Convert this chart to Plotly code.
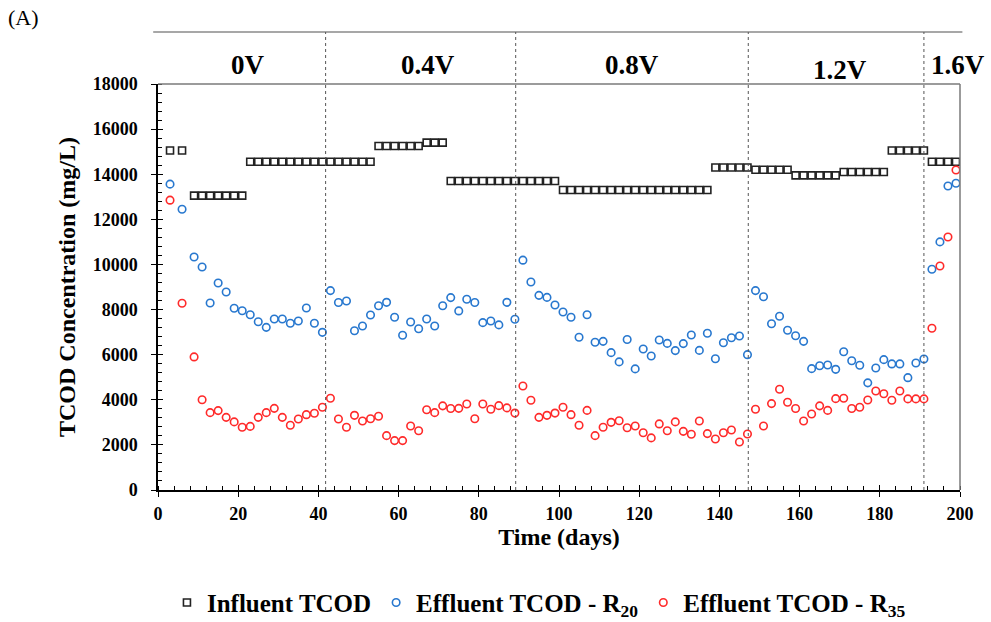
import plotly.graph_objects as go

# ---------------- data ----------------
days = [3, 6, 9, 11, 13, 15, 17, 19, 21, 23, 25, 27, 29, 31, 33, 35, 37, 39, 41, 43,
        45, 47, 49, 51, 53, 55, 57, 59, 61, 63, 65, 67, 69, 71, 73, 75, 77, 79, 81, 83,
        85, 87, 89, 91, 93, 95, 97, 99, 101, 103, 105, 107, 109, 111, 113, 115, 117, 119,
        121, 123, 125, 127, 129, 131, 133, 135, 137, 139, 141, 143, 145, 147, 149, 151,
        153, 155, 157, 159, 161, 163, 165, 167, 169, 171, 173, 175, 177, 179, 181, 183,
        185, 187, 189, 191, 193, 195, 197, 199]

influent = [15050, 15050,
            13050, 13050, 13050, 13050, 13050, 13050, 13050,
            14550, 14550, 14550, 14550, 14550, 14550, 14550, 14550,
            14550, 14550, 14550, 14550, 14550, 14550, 14550, 14550,
            15250, 15250, 15250, 15250, 15250, 15250,
            15400, 15400, 15400,
            13700, 13700, 13700, 13700, 13700, 13700, 13700,
            13700, 13700, 13700, 13700, 13700, 13700, 13700,
            13300, 13300, 13300, 13300, 13300, 13300, 13300, 13300, 13300, 13300,
            13300, 13300, 13300, 13300, 13300, 13300, 13300, 13300, 13300,
            14300, 14300, 14300, 14300, 14300,
            14200, 14200, 14200, 14200, 14200,
            13950, 13950, 13950, 13950, 13950, 13950,
            14100, 14100, 14100, 14100, 14100, 14100,
            15050, 15050, 15050, 15050, 15050,
            14550, 14550, 14550, 14550]

effluent_r20 = [13560, 12450, 10330, 9890, 8290, 9180, 8780, 8060, 7950, 7770,
                7460, 7210, 7580, 7580, 7390, 7490, 8070, 7390, 6990, 8840,
                8310, 8380, 7060, 7270, 7760, 8170, 8320, 7660, 6860, 7450,
                7150, 7580, 7270, 8170, 8530, 7940, 8460, 8310, 7420, 7490,
                7320, 8320, 7570, 10190, 9220, 8630, 8540, 8200, 7890, 7660,
                6770, 7770, 6550, 6590, 6090, 5680, 6670, 5370, 6250, 5940,
                6650, 6500, 6180, 6490, 6870, 6190, 6950, 5820, 6530, 6750,
                6830, 6000, 8840, 8570, 7370, 7700, 7080, 6840, 6590, 5380,
                5510, 5540, 5350, 6130, 5730, 5530, 4750, 5410, 5780, 5590,
                5590, 4980, 5630, 5810, 9790, 11000, 13480, 13600]

effluent_r35 = [12850, 8280, 5900, 4000, 3430, 3520, 3220, 3020, 2780, 2820,
                3220, 3430, 3620, 3220, 2870, 3150, 3340, 3400, 3670, 4070,
                3150, 2780, 3310, 3060, 3160, 3270, 2410, 2190, 2190, 2840,
                2630, 3560, 3430, 3730, 3610, 3620, 3810, 3160, 3810, 3580,
                3740, 3640, 3410, 4610, 3980, 3220, 3310, 3410, 3670, 3340,
                2870, 3530, 2410, 2780, 3000, 3070, 2760, 2840, 2540, 2310,
                2930, 2630, 3020, 2600, 2470, 3060, 2500, 2260, 2540, 2660,
                2130, 2480, 3580, 2840, 3830, 4470, 3890, 3610, 3060, 3370,
                3730, 3530, 4050, 4070, 3610, 3670, 3990, 4390, 4270, 3980,
                4390, 4040, 4040, 4040, 7170, 9930, 11220, 14190]

phase_bounds = [41.8, 89.2, 147.2, 191.0]
phase_labels = ["0V", "0.4V", "0.8V", "1.2V", "1.6V"]
phase_label_x = [22.4, 67.3, 118.2, 170.0, 199.5]

x_ticks = [0, 20, 40, 60, 80, 100, 120, 140, 160, 180, 200]
y_ticks = [0, 2000, 4000, 6000, 8000, 10000, 12000, 14000, 16000, 18000]
y_ticktext = ["0", "2000", "4000", "6000", "8000", "10000", "12000", "14000", "16000", "18000"]

# ---------------- figure ----------------
FONT = "Liberation Serif"
BLUE = "#2878CF"
RED = "#FF2A2A"

fig = go.Figure()
fig.add_trace(go.Scatter(
    x=days, y=influent, mode="markers", name="Influent TCOD",
    marker=dict(symbol="square-open", size=7, color="#222222", line=dict(width=1.6, color="#222222")),
))
fig.add_trace(go.Scatter(
    x=days, y=effluent_r20, mode="markers", name="Effluent TCOD - R<sub>20</sub>",
    marker=dict(symbol="circle-open", size=7.5, color=BLUE, line=dict(width=1.6, color=BLUE)),
))
fig.add_trace(go.Scatter(
    x=days, y=effluent_r35, mode="markers", name="Effluent TCOD - R<sub>35</sub>",
    marker=dict(symbol="circle-open", size=7.5, color=RED, line=dict(width=1.6, color=RED)),
))
# invisible trace for the overlay axes (inside half of crossing ticks)
fig.add_trace(go.Scatter(x=[-10], y=[-1000], xaxis="x2", yaxis="y2",
                         showlegend=False, hoverinfo="skip", mode="markers",
                         marker=dict(opacity=0)))

tickfont = dict(family=FONT, size=18, color="black", weight="bold")
titlefont = dict(family=FONT, size=24, color="black", weight="bold")

fig.update_layout(
    width=991, height=622,
    margin=dict(l=158, r=31, t=84, b=132),
    paper_bgcolor="white", plot_bgcolor="white",
    font=dict(family=FONT, color="black"),
    xaxis=dict(
        range=[0, 200], tickvals=x_ticks, ticks="outside", ticklen=5, tickwidth=1.3,
        tickcolor="black", showline=True, linecolor="black", linewidth=1.5,
        showgrid=False, zeroline=False, tickfont=tickfont, ticklabelstandoff=2,
        minor=dict(dtick=4, ticks="inside", ticklen=4, tickwidth=1, tickcolor="black", showgrid=False),
        title=dict(text="Time (days)", font=titlefont, standoff=4),
        automargin=False,
    ),
    yaxis=dict(
        range=[0, 18000], tickvals=y_ticks, ticktext=y_ticktext, ticks="outside", ticklen=5,
        tickwidth=1.3, tickcolor="black", showline=True, linecolor="black", linewidth=1.5,
        showgrid=False, zeroline=False, tickfont=tickfont, ticklabelstandoff=10,
        minor=dict(dtick=400, ticks="inside", ticklen=4, tickwidth=1, tickcolor="black", showgrid=False),
        title=dict(text="TCOD Concentration (mg/L)", font=titlefont, standoff=10),
        automargin=False,
    ),
    xaxis2=dict(range=[0, 200], overlaying="x", anchor="y", side="bottom",
                tickvals=x_ticks, ticks="inside", ticklen=5, tickwidth=1.3, tickcolor="black",
                showticklabels=False, showgrid=False, zeroline=False, showline=False),
    yaxis2=dict(range=[0, 18000], overlaying="y", anchor="x", side="left",
                tickvals=y_ticks, ticks="inside", ticklen=5, tickwidth=1.3, tickcolor="black",
                showticklabels=False, showgrid=False, zeroline=False, showline=False),
    legend=dict(orientation="h", x=0.475, xanchor="center", xref="paper",
                y=0.031, yanchor="middle", yref="container",
                font=dict(family=FONT, size=25, color="black", weight="bold"),
                itemwidth=30, tracegroupgap=0, bgcolor="rgba(0,0,0,0)"),
    showlegend=True,
)

shapes = []
# frame top & right (grey)
shapes.append(dict(type="line", xref="paper", yref="paper", x0=0, x1=1, y0=1, y1=1,
                   line=dict(color="#7a7a7a", width=1.5)))
shapes.append(dict(type="line", xref="paper", yref="paper", x0=1, x1=1, y0=0, y1=1,
                   line=dict(color="#7a7a7a", width=1.5)))
# top band line
shapes.append(dict(type="line", xref="paper", yref="paper", x0=-0.006, x1=1.003, y0=1.128, y1=1.128,
                   line=dict(color="#8a8a8a", width=1.5)))
# phase dividers
for b in phase_bounds:
    shapes.append(dict(type="line", xref="x", yref="paper", x0=b, x1=b, y0=0, y1=1.128,
                       line=dict(color="#555555", width=1, dash="3px,3px")))
fig.update_layout(shapes=shapes)

annotations = []
label_y = [1.047, 1.047, 1.047, 1.035, 1.047]
for lab, lx, ly in zip(phase_labels, phase_label_x, label_y):
    annotations.append(dict(text=lab, x=lx, y=ly, xref="x", yref="paper", showarrow=False,
                            xanchor="center", yanchor="middle",
                            font=dict(family=FONT, size=27, color="black", weight="bold")))
annotations.append(dict(text="(A)", x=-0.19, y=1.163, xref="paper", yref="paper", showarrow=False,
                        xanchor="left", yanchor="middle",
                        font=dict(family=FONT, size=22, color="black")))
fig.update_layout(annotations=annotations)

fig.write_html("out.html")
